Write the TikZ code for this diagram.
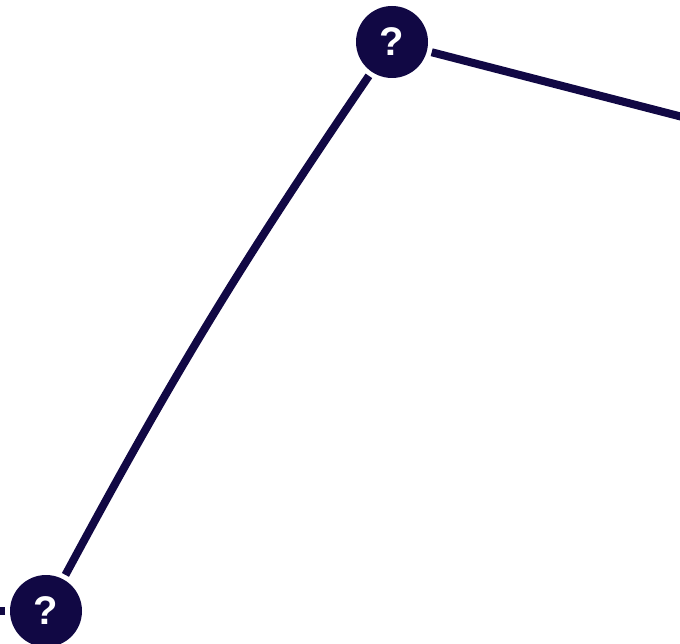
\documentclass[tikz,border=0pt]{standalone}
\usepackage{fontspec}
\setmainfont{Liberation Sans}
\usepackage{tikz}
\definecolor{deepnavy}{RGB}{17,8,68}

\begin{document}
\begin{tikzpicture}[x=1pt, y=1pt,
  qnode/.style={circle, fill=deepnavy, text=white, inner sep=0pt, minimum size=72pt, outer sep=5pt, font=\fontsize{40}{40}\selectfont\bfseries},
  link/.style={draw=deepnavy, line width=8pt}
]
\useasboundingbox (0,0) rectangle (680,643);
\clip (0,0) rectangle (680,643);
\node[qnode] (top) at (392,601) {?};
\node[qnode] (low) at (46,32) {?};
\coordinate (offright) at (760,506);
\coordinate (offleft) at (-60,32);
\draw[link] (top) -- (offright);
\draw[link] (top) to[bend right=3] (low);
\draw[link] (low) -- (offleft);
\end{tikzpicture}
\end{document}
